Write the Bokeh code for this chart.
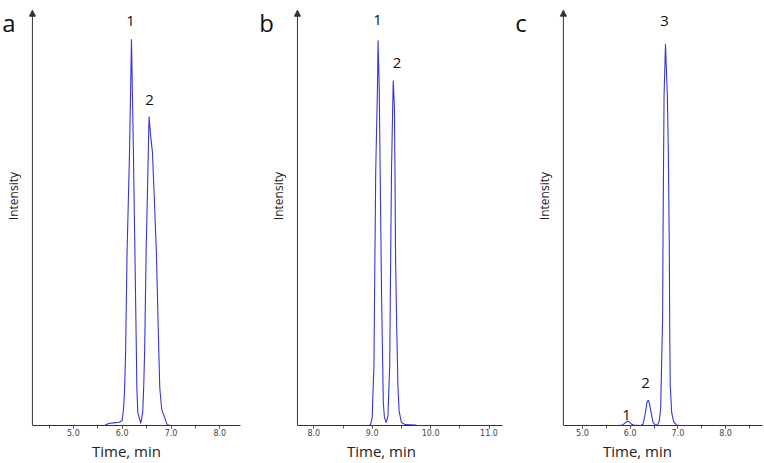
import math
from bokeh.plotting import figure
from bokeh.layouts import row
from bokeh.models import (Arrow, NormalHead, Label, SingleIntervalTicker,
                          NumeralTickFormatter, Range1d)
from bokeh.embed import file_html
from bokeh.resources import INLINE

# ---- data ----
time_a = [5.64, 5.72, 5.86, 5.94, 6.00, 6.03, 6.05, 6.07, 6.10, 6.15, 6.19, 6.23, 6.26, 6.29,
          6.30, 6.32, 6.38, 6.42, 6.44, 6.46, 6.49, 6.52, 6.55, 6.58, 6.62, 6.65, 6.70, 6.75,
          6.77, 6.81, 6.87, 6.92, 6.99]
int_a = [0.0, 0.5, 0.7, 0.8, 1.2, 4.3, 9.1, 18.0, 42.0, 65.9, 93.3, 65.9, 42.0, 18.0,
         9.1, 3.1, 0.5, 3.1, 9.1, 18.0, 42.0, 57.8, 74.6, 70.3, 65.9, 57.1, 42.0, 18.0,
         9.1, 3.8, 1.9, 0.2, 0.0]

time_b = [8.94, 8.97, 9.00, 9.01, 9.03, 9.04, 9.06, 9.09, 9.10, 9.12, 9.14, 9.16, 9.18, 9.19,
          9.21, 9.24, 9.27, 9.28, 9.30, 9.31, 9.33, 9.35, 9.36, 9.38, 9.39, 9.40, 9.42, 9.44,
          9.46, 9.50, 9.57, 9.74, 9.77]
int_b = [0.0, 0.2, 1.9, 6.7, 14.6, 31.4, 61.2, 81.8, 93.0, 81.8, 56.4, 31.4, 14.6, 5.5,
         1.9, 0.7, 2.4, 6.7, 14.6, 31.4, 61.2, 76.3, 83.3, 77.0, 61.2, 40.3, 23.5, 9.8,
         3.6, 0.7, 0.2, 0.1, 0.0]

time_c = [5.75, 5.84, 5.88, 5.95, 6.01, 6.07, 6.22, 6.27, 6.32, 6.35, 6.38, 6.40, 6.44, 6.48,
          6.53, 6.57, 6.61, 6.64, 6.66, 6.68, 6.69, 6.71, 6.74, 6.78, 6.80, 6.82, 6.83, 6.84,
          6.87, 6.91, 6.97, 7.05]
int_c = [0.0, 0.1, 0.5, 1.1, 0.5, 0.1, 0.0, 0.3, 3.1, 5.5, 6.1, 5.5, 3.1, 0.7,
         0.1, 0.1, 1.0, 4.3, 15.6, 25.9, 48.3, 79.4, 92.1, 79.4, 65.9, 43.5, 21.1, 9.8,
         3.1, 1.0, 0.1, 0.0]

# peak labels: (text, time, intensity at text baseline)
peaks_a = [("1", 6.170, 97.8), ("2", 6.559, 78.7)]
peaks_b = [("1", 9.090, 98.0), ("2", 9.425, 87.5)]
peaks_c = [("3", 6.719, 97.8), ("2", 6.321, 10.3), ("1", 5.923, 2.6)]

panel_letters = ["a", "b", "c"]
x_title = "Time, min"
y_title = "Intensity"

# axis extents (minutes) of each panel
axis_a = (4.16, 8.42)
axis_b = (7.72, 11.23)
axis_c = (4.60, 8.78)

FONT = "Open Sans"
LINE_COLOR = "#3535e0"
AXIS_COLOR = "#333333"
Y_TOP = 102.64


def make_panel(times, intens, xr, axis_x, width, letter, letter_x, peaks):
    p = figure(width=width, height=463, x_range=Range1d(*xr), y_range=Range1d(0, Y_TOP),
               output_backend="svg", toolbar_location=None,
               min_border_left=0, min_border_right=0, min_border_top=0,
               min_border_bottom=35)
    p.outline_line_color = None
    p.grid.visible = False
    p.background_fill_color = "white"

    p.line(times, intens, line_color=LINE_COLOR, line_width=1.1)

    xa = p.xaxis[0]
    xa.bounds = axis_x
    xa.ticker = SingleIntervalTicker(interval=1, num_minor_ticks=2)
    xa.formatter = NumeralTickFormatter(format="0.0")
    xa.axis_line_color = AXIS_COLOR
    xa.major_tick_line_color = "#555555"
    xa.minor_tick_line_color = "#555555"
    xa.major_tick_in = 0
    xa.major_tick_out = 3
    xa.minor_tick_in = 0
    xa.minor_tick_out = 3
    xa.major_label_standoff = 0
    xa.major_label_text_font = "DejaVu Sans"
    xa.major_label_text_font_size = "8px"
    xa.major_label_text_color = "#444444"
    xa.axis_label = x_title
    xa.axis_label_text_font = FONT
    xa.axis_label_text_font_size = "15px"
    xa.axis_label_text_font_style = "normal"
    xa.axis_label_text_color = "#222222"
    xa.axis_label_standoff = 2

    p.yaxis.visible = False

    # vertical axis with arrow head
    p.add_layout(Arrow(end=NormalHead(size=6, fill_color=AXIS_COLOR, line_color=AXIS_COLOR),
                       x_start=axis_x[0], y_start=0, x_end=axis_x[0], y_end=100.3,
                       line_color=AXIS_COLOR, line_width=1))

    # vertical axis title
    p.add_layout(Label(x=axis_x[0], y=55.4, x_offset=-10, text=y_title, angle=math.pi / 2,
                       text_align="center", text_baseline="bottom", text_font=FONT,
                       text_font_size="12px", text_color="#222222"))

    for txt, tx, ty in peaks:
        p.add_layout(Label(x=tx, y=ty, text=txt, text_align="center", text_baseline="alphabetic",
                           text_font=FONT, text_font_size="15px", text_color="#111111"))

    p.add_layout(Label(x=letter_x, y=97.4, text=letter, text_align="center",
                       text_baseline="alphabetic", text_font=FONT, text_font_size="24px",
                       text_color="#111111"))
    return p


pa = make_panel(time_a, int_a, (3.506, 8.670), axis_a, 252, panel_letters[0], 3.680, peaks_a)
pb = make_panel(time_b, int_b, (6.950, 11.368), axis_b, 258, panel_letters[1], 7.190, peaks_b)
pc = make_panel(time_c, int_c, (3.491, 8.816), axis_c, 254, panel_letters[2], 3.711, peaks_c)

layout = row(pa, pb, pc)
open("out.html", "w").write(file_html(layout, INLINE))
